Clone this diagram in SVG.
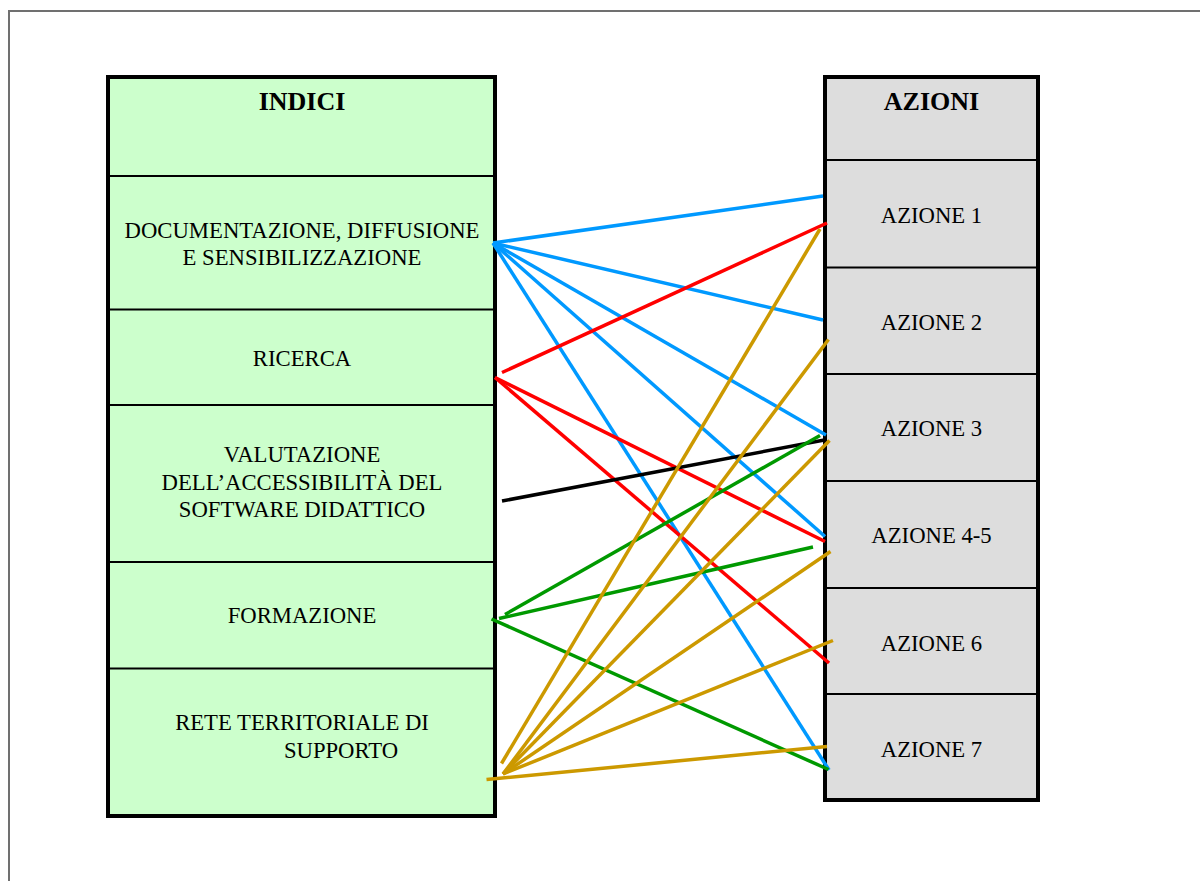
<svg xmlns="http://www.w3.org/2000/svg" width="1200" height="881" viewBox="0 0 1200 881">
<style>
.t{font-family:"Liberation Serif","Times New Roman",serif;font-size:22.7px;fill:#000;text-anchor:middle}
.h{font-family:"Liberation Serif","Times New Roman",serif;font-size:26px;font-weight:bold;fill:#000;text-anchor:middle}
.div{stroke:#000;stroke-width:2}
.c{fill:none;stroke-width:3.5;stroke-linecap:butt}
.blue{stroke:#0099ff}.red{stroke:#ff0000}.blk{stroke:#000}.grn{stroke:#009900}.gold{stroke:#cc9900}
</style>
<rect x="0" y="0" width="1200" height="881" fill="#fff"/>
<g id="page-border" fill="none" stroke="#707070" stroke-width="2">
<path d="M9,881 V11 H1200"/>
</g>
<g id="indici">
<rect x="108" y="77" width="387" height="739" fill="#ccffcc" stroke="#000" stroke-width="4"/>
<line class="div" x1="108" y1="176" x2="495" y2="176"/>
<line class="div" x1="108" y1="309.5" x2="495" y2="309.5"/>
<line class="div" x1="108" y1="405" x2="495" y2="405"/>
<line class="div" x1="108" y1="562" x2="495" y2="562"/>
<line class="div" x1="108" y1="668.5" x2="495" y2="668.5"/>
<text class="h" x="302" y="110">INDICI</text>
</g>
<g id="indice-documentazione"><text class="t" x="302" y="238">DOCUMENTAZIONE, DIFFUSIONE</text><text class="t" x="302" y="265">E SENSIBILIZZAZIONE</text></g>
<g id="indice-ricerca"><text class="t" x="302" y="366">RICERCA</text></g>
<g id="indice-valutazione"><text class="t" x="302" y="462">VALUTAZIONE</text><text class="t" x="302" y="490">DELL’ACCESSIBILITÀ DEL</text><text class="t" x="302" y="517">SOFTWARE DIDATTICO</text></g>
<g id="indice-formazione"><text class="t" x="302" y="623">FORMAZIONE</text></g>
<g id="indice-rete"><text class="t" x="302" y="730">RETE TERRITORIALE DI</text><text class="t" x="341" y="758">SUPPORTO</text></g>
<g id="azioni">
<rect x="825" y="77" width="213" height="723" fill="#dddddd" stroke="#000" stroke-width="4"/>
<line class="div" x1="825" y1="160" x2="1038" y2="160"/>
<line class="div" x1="825" y1="267.5" x2="1038" y2="267.5"/>
<line class="div" x1="825" y1="374" x2="1038" y2="374"/>
<line class="div" x1="825" y1="481" x2="1038" y2="481"/>
<line class="div" x1="825" y1="588" x2="1038" y2="588"/>
<line class="div" x1="825" y1="694" x2="1038" y2="694"/>
<text class="h" x="931.5" y="110">AZIONI</text>
</g>
<g id="azione-1"><text class="t" x="931.5" y="223">AZIONE 1</text></g>
<g id="azione-2"><text class="t" x="931.5" y="330">AZIONE 2</text></g>
<g id="azione-3"><text class="t" x="931.5" y="436">AZIONE 3</text></g>
<g id="azione-4-5"><text class="t" x="931.5" y="543">AZIONE 4-5</text></g>
<g id="azione-6"><text class="t" x="931.5" y="650.5">AZIONE 6</text></g>
<g id="azione-7"><text class="t" x="931.5" y="756.5">AZIONE 7</text></g>
<g id="connectors">
<line class="c blue" x1="493" y1="243" x2="823" y2="196"/>
<line class="c blue" x1="493" y1="243" x2="823" y2="320"/>
<line class="c blue" x1="493" y1="243" x2="826" y2="435"/>
<line class="c blue" x1="493" y1="243" x2="825" y2="536.5"/>
<line class="c blue" x1="493" y1="243" x2="829" y2="770"/>
<line class="c red" x1="502" y1="372.5" x2="827" y2="223"/>
<line class="c red" x1="495" y1="377.5" x2="825" y2="541.5"/>
<line class="c red" x1="495" y1="377.5" x2="829" y2="663"/>
<line class="c blk" x1="502" y1="501" x2="827" y2="439.5"/>
<line class="c grn" x1="505" y1="614.5" x2="820" y2="435.5"/>
<line class="c grn" x1="499" y1="618.5" x2="813" y2="547"/>
<line class="c grn" x1="491.5" y1="619" x2="828.5" y2="769.5"/>
<line class="c gold" x1="501.5" y1="763.5" x2="820" y2="229"/>
<line class="c gold" x1="503" y1="774" x2="828.5" y2="339.5"/>
<line class="c gold" x1="503" y1="774" x2="829.5" y2="440.5"/>
<line class="c gold" x1="503" y1="774" x2="830.5" y2="551.5"/>
<line class="c gold" x1="503" y1="774" x2="833" y2="640.5"/>
<line class="c gold" x1="486.5" y1="779.5" x2="827" y2="746.5"/>
</g>
</svg>
